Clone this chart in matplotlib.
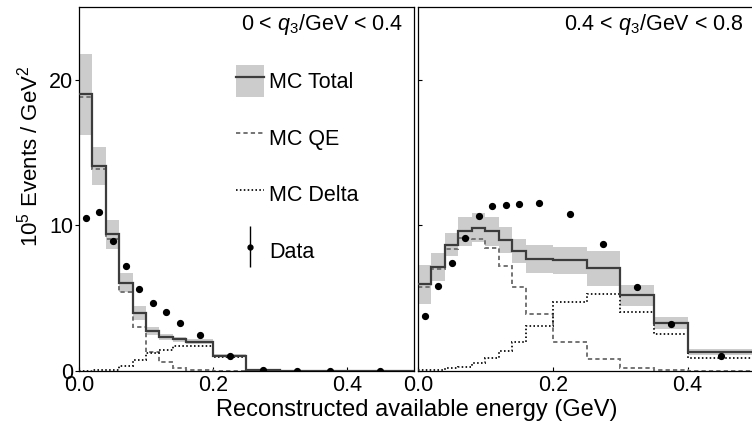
import numpy as np
import matplotlib
matplotlib.use("Agg")
import matplotlib.pyplot as plt
from matplotlib.patches import Patch
from matplotlib.lines import Line2D
from matplotlib.legend_handler import HandlerErrorbar

plt.rcParams['font.family'] = ['Liberation Sans', 'DejaVu Sans']
plt.rcParams['mathtext.fontset'] = 'custom'
plt.rcParams['mathtext.rm'] = 'Liberation Sans'
plt.rcParams['mathtext.it'] = 'Liberation Sans:italic'

# bin edges (GeV) and bin centres for data points
edges = [0.0, 0.02, 0.04, 0.06, 0.08, 0.10, 0.12, 0.14, 0.16, 0.20, 0.25, 0.30, 0.35, 0.40, 0.50]
centers = [0.01, 0.03, 0.05, 0.07, 0.09, 0.11, 0.13, 0.15, 0.18, 0.225, 0.275, 0.325, 0.375, 0.45]

# 0 < q3 < 0.4
low_total = [19.0, 14.1, 9.4, 6.07, 3.98, 2.72, 2.36, 2.18, 2.02, 1.05, 0.08, 0.03, 0.02, 0.01]
low_err = [2.8, 1.3, 1.0, 0.65, 0.46, 0.27, 0.2, 0.18, 0.15, 0.12, 0.03, 0.02, 0.02, 0.01]
low_qe = [18.8, 13.9, 9.1, 5.45, 3.0, 1.33, 0.6, 0.19, 0.05, 0.02, 0.01, 0.0, 0.0, 0.0]
low_delta = [0.02, 0.05, 0.1, 0.37, 0.76, 1.26, 1.44, 1.72, 1.72, 0.99, 0.03, 0.01, 0.0, 0.0]
low_data = [10.5, 10.9, 8.95, 7.2, 5.65, 4.64, 4.04, 3.3, 2.49, 1.06, 0.05, 0.02, 0.02, 0.01]
low_data_err = [0.15, 0.15, 0.12, 0.1, 0.1, 0.08, 0.08, 0.07, 0.05, 0.04, 0.01, 0.01, 0.01, 0.01]

# 0.4 < q3 < 0.8
high_total = [5.95, 7.15, 8.67, 9.6, 9.83, 9.6, 9.0, 8.26, 7.68, 7.6, 7.06, 5.19, 3.3, 1.3]
high_err = [1.35, 0.95, 0.78, 1.0, 1.0, 1.0, 0.9, 0.83, 0.95, 0.95, 1.2, 0.7, 0.43, 0.23]
high_qe = [5.8, 7.0, 8.37, 9.13, 9.07, 8.44, 7.22, 5.77, 3.92, 1.99, 0.81, 0.23, 0.05, 0.01]
high_delta = [0.05, 0.1, 0.2, 0.3, 0.53, 0.88, 1.34, 1.96, 3.07, 4.73, 5.26, 4.06, 2.54, 0.92]
high_data = [3.76, 5.83, 7.4, 9.15, 10.64, 11.3, 11.42, 11.47, 11.54, 10.78, 8.72, 5.77, 3.25, 1.06]
high_data_err = [0.12, 0.14, 0.15, 0.15, 0.15, 0.15, 0.15, 0.15, 0.12, 0.1, 0.1, 0.08, 0.06, 0.04]

panels = [
    ("0 < $q_3$/GeV < 0.4", low_total, low_err, low_qe, low_delta, low_data, low_data_err),
    ("0.4 < $q_3$/GeV < 0.8", high_total, high_err, high_qe, high_delta, high_data, high_data_err),
]

TOTAL_C = '#3c3c3c'
BAND_C = '#cccccc'
QE_C = '#747474'
DELTA_C = '#1e1e1e'
FS = 15.5

fig = plt.figure(figsize=(7.52, 4.32), dpi=100)
ax_l = fig.add_axes([79 / 752, 61 / 432, 335 / 752, 364 / 432])
ax_r = fig.add_axes([418 / 752, 61 / 432, 337 / 752, 364 / 432])

for ax, (title, total, err, qe, delta, data, derr) in zip([ax_l, ax_r], panels):
    total = np.array(total)
    err = np.array(err)
    ax.stairs(total + err, edges, baseline=total - err, fill=True,
              color=BAND_C, lw=0, zorder=1)
    ax.stairs(qe, edges, baseline=None, color=QE_C, lw=1.4,
              linestyle=(0, (2.2, 1.6)), zorder=2)
    ax.stairs(delta, edges, baseline=None, color=DELTA_C, lw=1.4,
              linestyle=(0, (0.8, 1.2)), zorder=3)
    ax.stairs(total, edges, baseline=None, color=TOTAL_C, lw=1.6, zorder=4)
    ax.errorbar(centers, data, yerr=derr, fmt='o', color='black', ms=4.2,
                elinewidth=1.0, capsize=0, zorder=5)
    ax.set_xlim(0, 0.5)
    ax.set_ylim(0, 25)
    ax.set_xticks([0.0, 0.2, 0.4])
    ax.set_xticklabels(['0.0', '0.2', '0.4'])
    ax.set_yticks([0, 10, 20])
    ax.tick_params(axis='x', direction='in', length=3, width=0.8, pad=3,
                   labelsize=FS)
    for sp in ax.spines.values():
        sp.set_linewidth(0.9)
    ax.text(0.968, 0.985, title, transform=ax.transAxes, ha='right', va='top',
            fontsize=FS)

ax_l.tick_params(axis='y', direction='out', length=3, width=0.8, pad=1,
                 labelsize=FS)
ax_r.tick_params(axis='y', direction='in', length=3, width=0.8,
                 labelleft=False)

h_total = (Patch(facecolor=BAND_C, edgecolor='none'),
           Line2D([], [], color=TOTAL_C, lw=1.6))
h_qe = Line2D([], [], color=QE_C, lw=1.4, linestyle=(0, (2.2, 1.6)))
h_delta = Line2D([], [], color=DELTA_C, lw=1.4, linestyle=(0, (0.8, 1.2)))
h_data = ax_l.errorbar([], [], yerr=[], fmt='o', color='black', ms=3.5,
                       elinewidth=1.0, capsize=0)
ax_l.legend([h_total, h_qe, h_delta, h_data],
            ['MC Total', 'MC QE', 'MC Delta', 'Data'],
            loc='upper left', bbox_to_anchor=(0.469, 0.84),
            borderaxespad=0, borderpad=0, frameon=False, fontsize=FS,
            handlelength=1.3, handleheight=1.9, handletextpad=0.25,
            labelspacing=1.15,
            handler_map={type(h_data): HandlerErrorbar(yerr_size=0.95)})

fig.text(417 / 752, 1 - 410 / 432, 'Reconstructed available energy (GeV)',
         ha='center', va='center', fontsize=17)
fig.text(30 / 752, 1 - 156 / 432, '$10^5$ Events / GeV$^2$', rotation=90,
         ha='center', va='center', fontsize=16)

fig.savefig('out.png', dpi=100)
